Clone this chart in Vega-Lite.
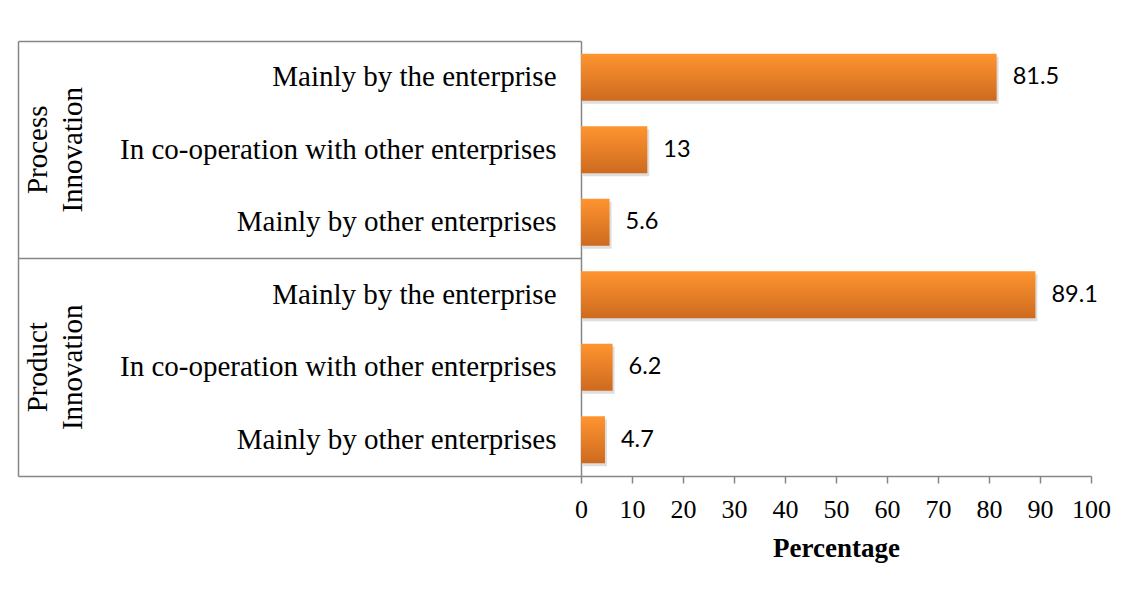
{
  "$schema": "https://vega.github.io/schema/vega-lite/v6.json",
  "width": 510,
  "height": 435,
  "padding": {"left": 17, "top": 27, "right": 20, "bottom": 5},
  "background": "white",
  "config": {"view": {"stroke": null}, "font": "Liberation Serif"},
  "data": {
    "values": [
      {"group": "Process Innovation", "item": "Mainly by the enterprise", "value": 81.5},
      {"group": "Process Innovation", "item": "In co-operation with other enterprises", "value": 13},
      {"group": "Process Innovation", "item": "Mainly by other enterprises", "value": 5.6},
      {"group": "Product Innovation", "item": "Mainly by the enterprise", "value": 89.1},
      {"group": "Product Innovation", "item": "In co-operation with other enterprises", "value": 6.2},
      {"group": "Product Innovation", "item": "Mainly by other enterprises", "value": 4.7}
    ]
  },
  "transform": [{"calculate": "datum.group + '|' + datum.item", "as": "key"}],
  "encoding": {
    "x": {
      "field": "value",
      "type": "quantitative",
      "scale": {"domain": [0, 100], "nice": false},
      "axis": {
        "values": [0, 10, 20, 30, 40, 50, 60, 70, 80, 90, 100],
        "grid": false,
        "domainColor": "#868686",
        "domainWidth": 1.5,
        "tickColor": "#868686",
        "tickWidth": 1.5,
        "tickSize": 7,
        "labelFont": "Liberation Serif",
        "labelFontSize": 26,
        "labelColor": "black",
        "labelPadding": 13,
        "labelFlush": false,
        "title": "Percentage",
        "titleFont": "Liberation Serif",
        "titleFontSize": 27,
        "titleFontWeight": "bold",
        "titleColor": "black",
        "titlePadding": 13
      }
    }
  },
  "layer": [
    {
      "mark": {"type": "bar", "height": {"band": 0.65}, "color": "#000000", "opacity": 0.13, "xOffset": 2, "yOffset": 3},
      "encoding": {
        "y": {"field": "key", "type": "nominal", "sort": null, "scale": {"paddingInner": 0, "paddingOuter": 0}, "axis": null}
      }
    },
    {
      "mark": {
        "type": "bar",
        "height": {"band": 0.65},
        "color": {
          "gradient": "linear",
          "x1": 0, "y1": 0, "x2": 0, "y2": 1,
          "stops": [
            {"offset": 0, "color": "#ff9530"},
            {"offset": 1, "color": "#cd6a1f"}
          ]
        }
      },
      "encoding": {
        "y": {
          "field": "key",
          "type": "nominal",
          "sort": null,
          "scale": {"paddingInner": 0, "paddingOuter": 0},
          "axis": {
            "orient": "left",
            "title": null,
            "domain": true,
            "domainColor": "#868686",
            "domainWidth": 1.5,
            "ticks": true,
            "bandPosition": 1,
            "tickExtra": true,
            "tickSize": 563,
            "tickColor": "#868686",
            "tickWidth": 1.5,
            "tickOpacity": {
              "condition": {"test": "datum.index < 0 || (datum.value && indexof(datum.value, 'Mainly by other') >= 0)", "value": 1},
              "value": 0
            },
            "labelPadding": -538,
            "labelExpr": "split(datum.value, '|')[1]",
            "labelFont": "Liberation Serif",
            "labelFontSize": 29,
            "labelColor": "black",
            "labelAlign": "right",
            "labelBaseline": "middle",
            "labelLimit": 600,
            "labelBound": false
          }
        }
      }
    },
    {
      "mark": {"type": "text", "align": "left", "baseline": "middle", "dx": 16, "font": "Lato", "fontSize": 23.5, "color": "black"},
      "encoding": {
        "y": {
          "field": "key",
          "type": "nominal",
          "sort": null,
          "scale": {"paddingInner": 0, "paddingOuter": 0},
          "axis": {
            "orient": "left",
            "offset": 563,
            "title": null,
            "domain": true,
            "domainColor": "#868686",
            "domainWidth": 1.5,
            "ticks": false,
            "labelPadding": -19,
            "labelAngle": 270,
            "labelAlign": "center",
            "labelBaseline": "middle",
            "labelLineHeight": 35,
            "labelExpr": "indexof(datum.value, '|In co-operation') > 0 ? split(split(datum.value, '|')[0], ' ') : ''",
            "labelFont": "Liberation Serif",
            "labelFontSize": 29,
            "labelColor": "black",
            "labelLimit": 600,
            "labelBound": false
          }
        },
        "text": {"field": "value", "type": "quantitative"}
      }
    }
  ],
  "resolve": {"axis": {"y": "independent"}}
}
